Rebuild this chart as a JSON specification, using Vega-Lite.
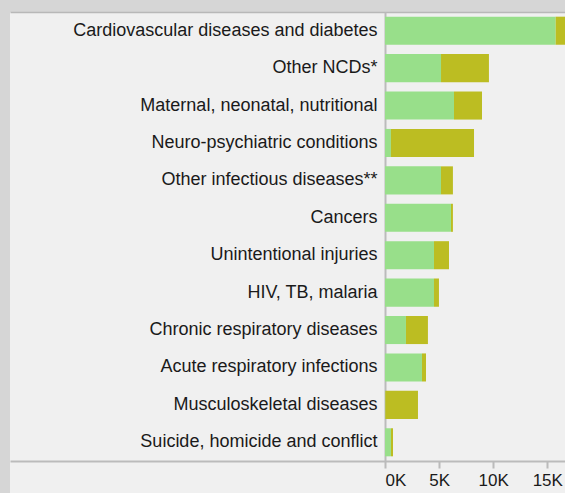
{
  "$schema": "https://vega.github.io/schema/vega-lite/v6.json",
  "autosize": {"type": "none"},
  "width": 555,
  "height": 481,
  "padding": {"left": 10, "top": 12, "right": 0, "bottom": 0},
  "background": "#d6d6d6",
  "config": {
    "view": {"fill": "#f0f0f0", "stroke": null},
    "font": "Liberation Sans"
  },
  "title": {
    "text": "Burden of disease, total DALYs (thousands) by broad cause group",
    "anchor": "start",
    "fontSize": 22,
    "fontWeight": "bold",
    "color": "#1a9fdc",
    "baseline": "alphabetic",
    "offset": -4,
    "dx": -133
  },
  "data": {
    "values": [
      {"cause": "Cardiovascular diseases and diabetes", "type": "Years of life lost", "o": 1, "value": 15780},
      {"cause": "Cardiovascular diseases and diabetes", "type": "Years lived with disability", "o": 2, "value": 2000},
      {"cause": "Other NCDs*", "type": "Years of life lost", "o": 1, "value": 5180},
      {"cause": "Other NCDs*", "type": "Years lived with disability", "o": 2, "value": 4430},
      {"cause": "Maternal, neonatal, nutritional", "type": "Years of life lost", "o": 1, "value": 6380},
      {"cause": "Maternal, neonatal, nutritional", "type": "Years lived with disability", "o": 2, "value": 2590},
      {"cause": "Neuro-psychiatric conditions", "type": "Years of life lost", "o": 1, "value": 550},
      {"cause": "Neuro-psychiatric conditions", "type": "Years lived with disability", "o": 2, "value": 7680},
      {"cause": "Other infectious diseases**", "type": "Years of life lost", "o": 1, "value": 5180},
      {"cause": "Other infectious diseases**", "type": "Years lived with disability", "o": 2, "value": 1100},
      {"cause": "Cancers", "type": "Years of life lost", "o": 1, "value": 6100},
      {"cause": "Cancers", "type": "Years lived with disability", "o": 2, "value": 180},
      {"cause": "Unintentional injuries", "type": "Years of life lost", "o": 1, "value": 4530},
      {"cause": "Unintentional injuries", "type": "Years lived with disability", "o": 2, "value": 1390},
      {"cause": "HIV, TB, malaria", "type": "Years of life lost", "o": 1, "value": 4530},
      {"cause": "HIV, TB, malaria", "type": "Years lived with disability", "o": 2, "value": 460},
      {"cause": "Chronic respiratory diseases", "type": "Years of life lost", "o": 1, "value": 1940},
      {"cause": "Chronic respiratory diseases", "type": "Years lived with disability", "o": 2, "value": 2030},
      {"cause": "Acute respiratory infections", "type": "Years of life lost", "o": 1, "value": 3420},
      {"cause": "Acute respiratory infections", "type": "Years lived with disability", "o": 2, "value": 370},
      {"cause": "Musculoskeletal diseases", "type": "Years of life lost", "o": 1, "value": 30},
      {"cause": "Musculoskeletal diseases", "type": "Years lived with disability", "o": 2, "value": 3020},
      {"cause": "Suicide, homicide and conflict", "type": "Years of life lost", "o": 1, "value": 550},
      {"cause": "Suicide, homicide and conflict", "type": "Years lived with disability", "o": 2, "value": 190}
    ]
  },
  "layer": [
    {
      "mark": {"type": "bar"},
      "encoding": {
        "y": {
          "field": "cause",
          "type": "nominal",
          "sort": ["Cardiovascular diseases and diabetes", "Other NCDs*", "Maternal, neonatal, nutritional", "Neuro-psychiatric conditions", "Other infectious diseases**", "Cancers", "Unintentional injuries", "HIV, TB, malaria", "Chronic respiratory diseases", "Acute respiratory infections", "Musculoskeletal diseases", "Suicide, homicide and conflict"],
          "scale": {"range": [0, 449], "paddingInner": 0.25, "paddingOuter": 0.125},
          "axis": {
            "title": null,
            "offset": -375,
            "ticks": false,
            "labelPadding": 8,
            "labelFontSize": 18,
            "labelColor": "#1a1a1a",
            "labelLimit": 400,
            "domainColor": "#bbbbbb",
            "domainWidth": 2
          }
        },
        "x": {
          "field": "value",
          "type": "quantitative",
          "stack": "zero",
          "scale": {"domain": [-34660, 16640], "nice": false, "zero": false},
          "axis": {
            "title": null,
            "offset": -32,
            "values": [0, 5000, 10000, 15000],
            "labelExpr": "datum.value / 1000 + 'K'",
            "grid": false,
            "domainColor": "#bbbbbb",
            "domainWidth": 2,
            "tickColor": "#bbbbbb",
            "tickWidth": 2,
            "tickSize": 7,
            "labelFontSize": 17,
            "labelColor": "#1a1a1a",
            "labelPadding": 4,
            "labelAlign": {"condition": {"test": "datum.value == 0", "value": "left"}, "value": "center"}
          }
        },
        "color": {
          "field": "type",
          "type": "nominal",
          "scale": {"domain": ["Years of life lost", "Years lived with disability"], "range": ["#98df8a", "#bcbd22"]},
          "legend": null
        },
        "order": {"field": "o", "type": "quantitative"}
      }
    },
    {
      "mark": {"type": "bar", "opacity": 0},
      "encoding": {
        "x": {
          "field": "value",
          "type": "quantitative",
          "stack": "zero",
          "axis": {
            "orient": "top",
            "title": null,
            "labels": false,
            "ticks": false,
            "grid": false,
            "domainColor": "#b8b8b8",
            "domainWidth": 1.5
          }
        }
      }
    }
  ],
  "resolve": {"axis": {"x": "independent"}}
}
